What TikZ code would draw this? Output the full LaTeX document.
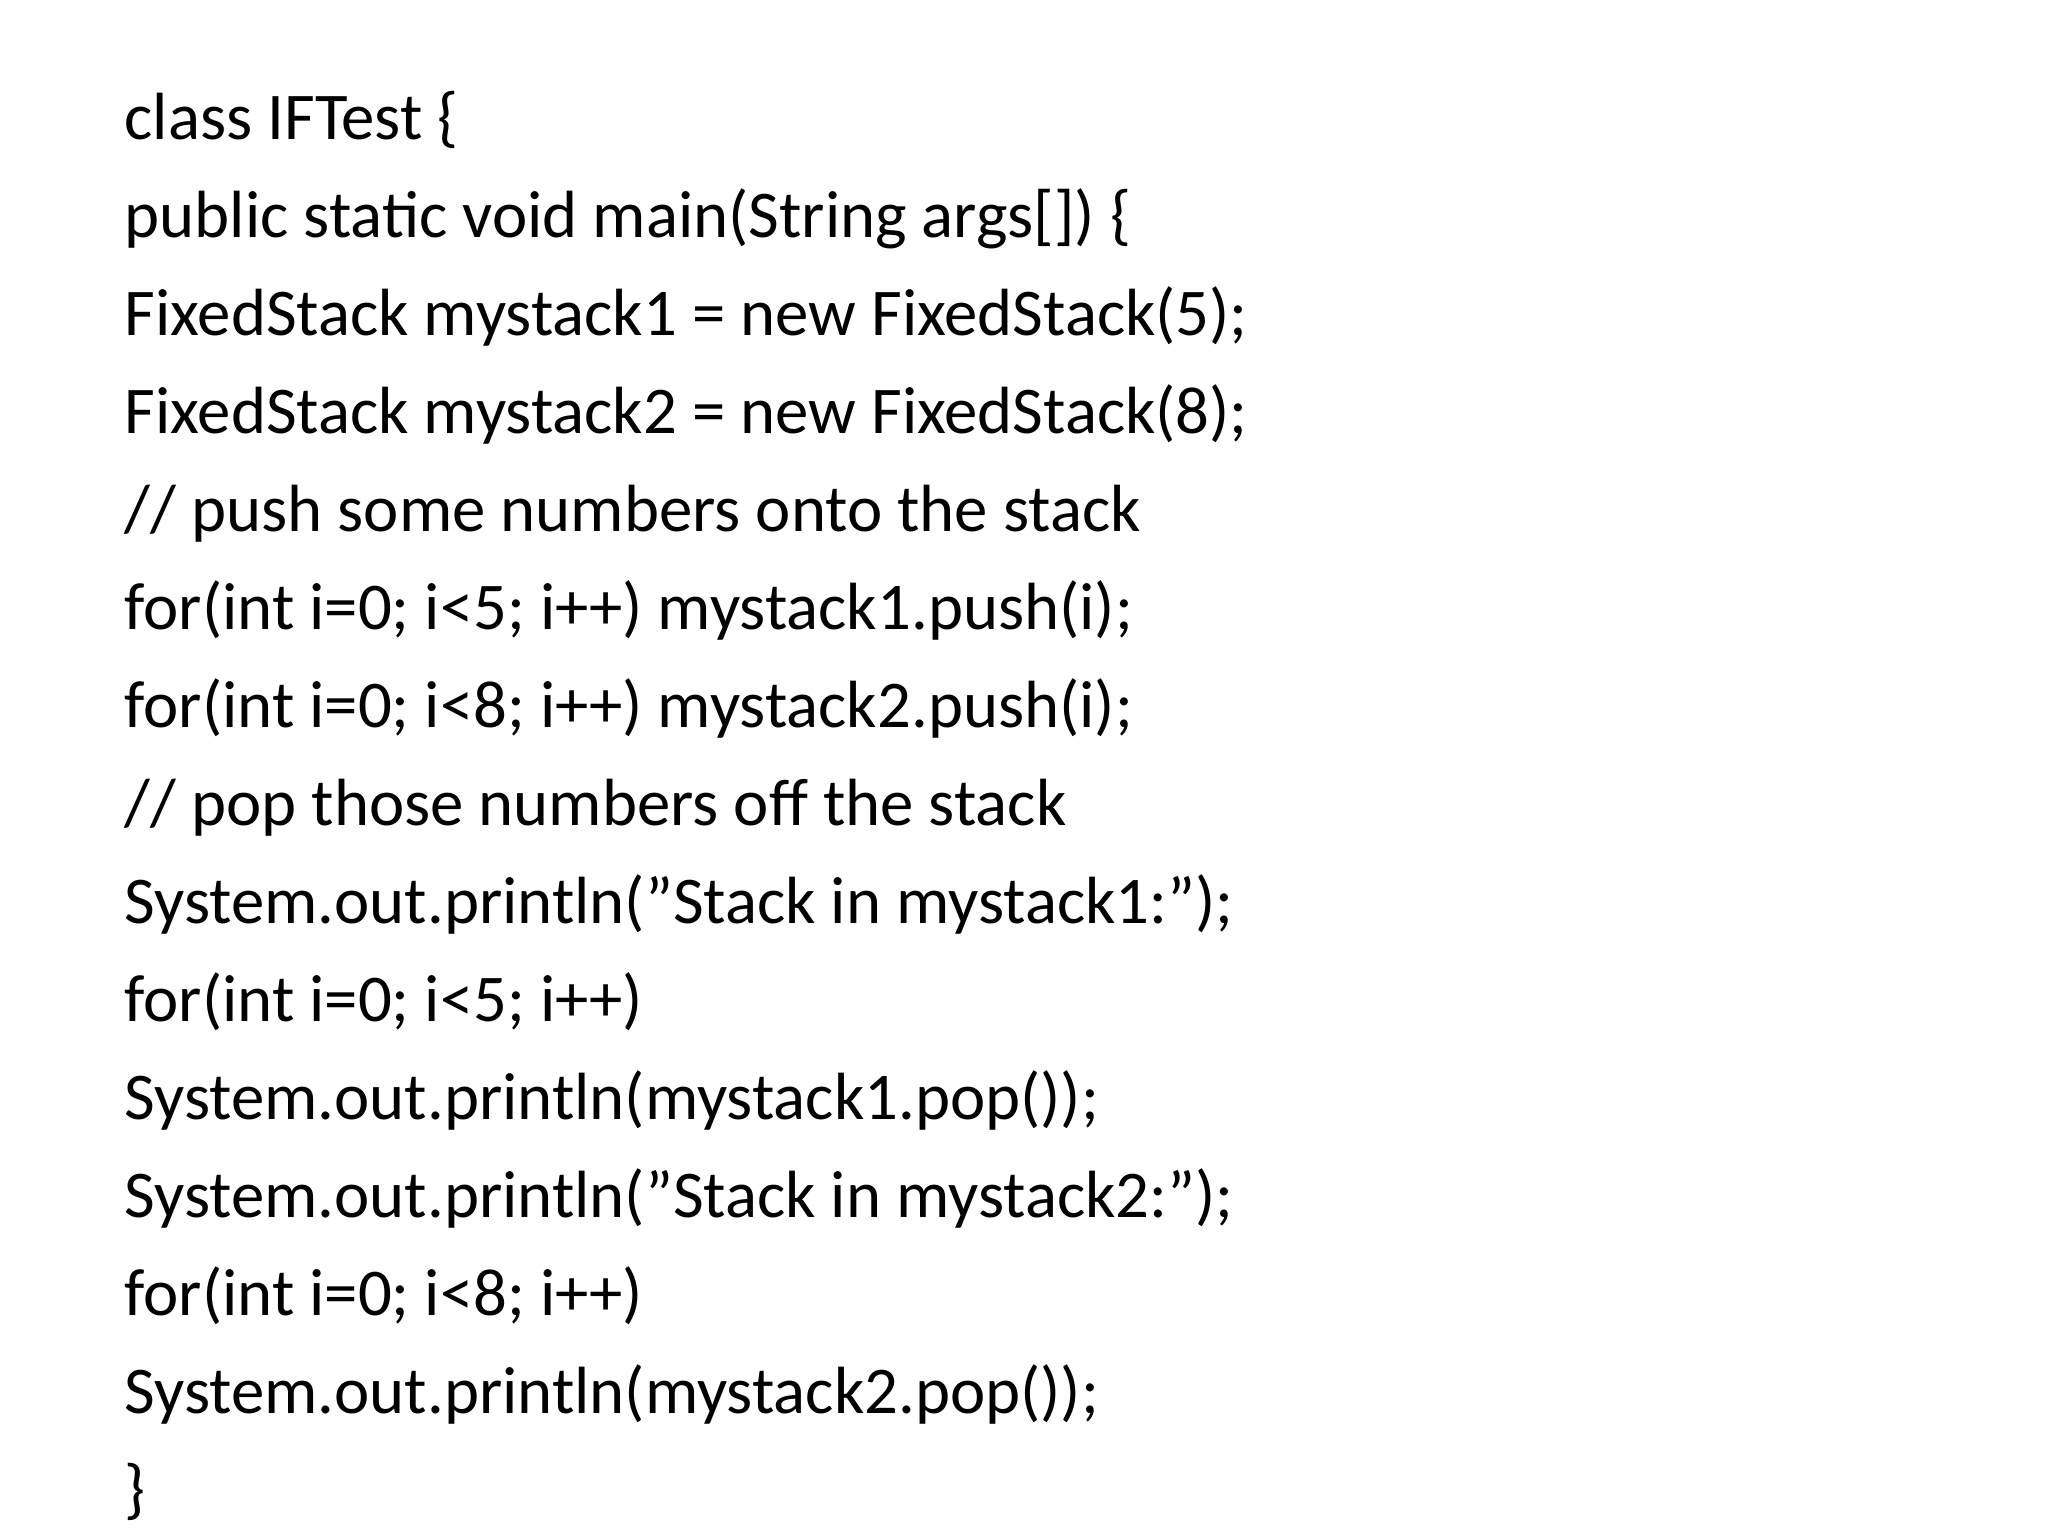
\documentclass[tikz,border=0pt]{standalone}
\usepackage{fontspec}
\setmainfont{Carlito}
\begin{document}
\begin{tikzpicture}[x=1cm,y=1cm,
  code/.style={anchor=base west,inner sep=0pt,font=\fontsize{19}{19}\selectfont}]
\useasboundingbox[fill=white] (0,0) rectangle (20.48,15.36);
\foreach \t [count=\i] in {
 {class IFTest \{},
 {public static void main(String args[]) \{},
 {FixedStack mystack1 = new FixedStack(5);},
 {FixedStack mystack2 = new FixedStack(8);},
 {// push some numbers onto the stack},
 {for(int i=0; i<5; i++) mystack1.push(i);},
 {for(int i=0; i<8; i++) mystack2.push(i);},
 {// pop those numbers off the stack},
 {System.out.println("Stack in mystack1:");},
 {for(int i=0; i<5; i++)},
 {System.out.println(mystack1.pop());},
 {System.out.println("Stack in mystack2:");},
 {for(int i=0; i<8; i++)},
 {System.out.println(mystack2.pop());},
 {\}}}
 \node[code] (l\i) at (1.24,{13.96-0.98*(\i-1)}) {\t};
\end{tikzpicture}
\end{document}
